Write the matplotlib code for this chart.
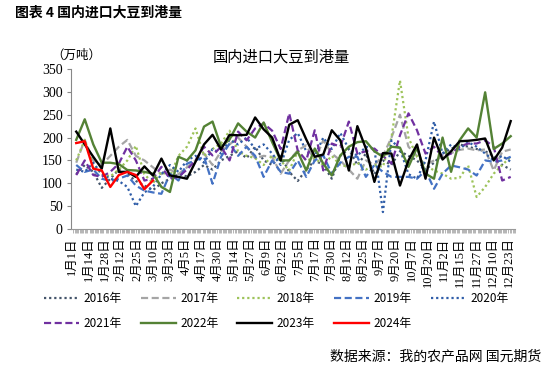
import numpy as np
import matplotlib
matplotlib.use('Agg')
import matplotlib.pyplot as plt

plt.rcParams['font.family'] = ['Noto Sans CJK SC', 'DejaVu Sans']

# x-axis labels (one every 13 categories)
tick_labels = ['1月1日', '1月14日', '1月28日', '2月12日', '2月25日', '3月10日', '3月23日',
               '4月5日', '4月17日', '4月30日', '5月14日', '5月27日', '6月9日', '6月22日',
               '7月5日', '7月17日', '7月30日', '8月12日', '8月25日', '9月7日', '9月20日',
               '10月7日', '10月20日', '11月2日', '11月15日', '11月27日', '12月10日', '12月23日']

# weekly arrivals, 万吨
y2016 = [120, 140, 125, 90, 110, 130, 120, 105, 95, 85, 100, 110, 120, 115, 125, 140, 130, 150,
         160, 170, 155, 180, 150, 140, 160, 125, 105, 130, 150, 140, 110, 160, 175, 140, 165, 120,
         150, 140, 170, 160, 150, 130, 145, 165, 175, 185, 180, 175, 170, 160, 140, 130]
y2017 = [145, 195, 150, 140, 160, 180, 195, 160, 150, 135, 120, 130, 120, 135, 150, 165, 140, 170,
         185, 200, 180, 155, 160, 158, 121, 150, 172, 183, 150, 194, 165, 150, 130, 110, 150, 140,
         160, 200, 250, 180, 160, 140, 150, 158, 166, 173, 176, 172, 174, 128, 169, 174]
y2018 = [150, 195, 140, 120, 115, 130, 150, 182, 120, 100, 125, 115, 160, 180, 220, 160, 175, 187,
         215, 170, 160, 155, 140, 160, 150, 128, 170, 150, 155, 140, 160, 140, 136, 145, 130, 140,
         136, 200, 325, 200, 158, 140, 128, 121, 110, 112, 139, 70, 92, 121, 140, 158]
y2019 = [140, 125, 130, 110, 105, 110, 117, 95, 84, 80, 77, 121, 106, 143, 150, 158, 99, 158,
         187, 160, 180, 160, 114, 150, 125, 121, 150, 114, 150, 161, 121, 145, 158, 158, 114, 140,
         125, 114, 114, 114, 110, 128, 88, 121, 139, 135, 130, 117, 150, 147, 150, 158]
y2020 = [130, 125, 145, 120, 110, 105, 92, 50, 80, 92, 120, 140, 125, 150, 160, 145, 175, 165,
         195, 185, 200, 175, 185, 165, 140, 195, 210, 170, 160, 200, 175, 210, 175, 160, 180, 175,
         37, 194, 175, 120, 110, 150, 235, 165, 185, 175, 190, 180, 165, 150, 160, 147]
y2021 = [118, 150, 118, 114, 125, 143, 180, 150, 106, 110, 136, 110, 114, 130, 150, 180, 161, 180,
         150, 213, 194, 220, 231, 215, 175, 253, 172, 150, 216, 128, 187, 180, 235, 165, 170, 176,
         160, 143, 205, 253, 216, 165, 180, 158, 165, 180, 187, 187, 194, 180, 106, 114]
y2022 = [195, 240, 185, 145, 145, 142, 129, 128, 125, 121, 92, 81, 158, 150, 172, 224, 235, 180,
         196, 231, 213, 200, 233, 190, 150, 150, 169, 128, 176, 143, 117, 161, 180, 190, 192, 170,
         158, 180, 178, 136, 178, 121, 110, 200, 125, 194, 220, 200, 299, 175, 187, 203]
y2023 = [213, 185, 158, 132, 220, 125, 125, 114, 137, 117, 154, 117, 114, 110, 147, 185, 206, 174,
         206, 205, 206, 244, 218, 200, 150, 228, 238, 196, 158, 163, 216, 194, 128, 225, 176, 103,
         166, 165, 95, 150, 185, 110, 200, 152, 170, 192, 193, 195, 198, 150, 178, 236]
y2024 = [188, 192, 132, 128, 92, 118, 125, 118, 87, 106]

series = [
    ('2016年', y2016, '#44546A', (0, (1, 1.3))),
    ('2017年', y2017, '#A5A5A5', (0, (3.2, 1.6))),
    ('2018年', y2018, '#9DC35A', (0, (1, 1.3))),
    ('2019年', y2019, '#4472C4', (0, (3.2, 1.6))),
    ('2020年', y2020, '#2F5DA8', (0, (1, 1.3))),
    ('2021年', y2021, '#7030A0', (0, (3.2, 1.6))),
    ('2022年', y2022, '#548235', '-'),
    ('2023年', y2023, '#000000', '-'),
    ('2024年', y2024, '#FF0000', '-'),
]

fig = plt.figure(figsize=(5.46, 3.69), dpi=100)
ax = fig.add_axes([71 / 546, 1 - 229 / 369, 444 / 546, 160 / 369])

handles = {}
for name, vals, color, ls in series:
    x = 3.2 + 6.85 * np.arange(len(vals))
    lw = 1.7 if ls == '-' else 1.6
    h, = ax.plot(x, vals, color=color, linestyle=ls, lw=lw, label=name)
    handles[name] = h

ax.set_xlim(-1, 356)
ax.set_ylim(0, 350)
ax.set_yticks(range(0, 351, 50))
ax.set_yticklabels([str(v) for v in range(0, 351, 50)], family='Liberation Serif', fontsize=10)
ax.tick_params(axis='y', length=3, color='#888888', pad=3)

ax.set_xticks(np.arange(len(tick_labels)) * 13)
ax.set_xticklabels(tick_labels, rotation=90, family=['Liberation Serif', 'Noto Sans CJK SC'],
                   fontsize=9)
ax.set_xticks(np.arange(0, 357, 1), minor=True)
ax.tick_params(axis='x', which='major', length=0, pad=6)
ax.tick_params(axis='x', which='minor', length=3, width=0.5, color='#999999')

for s in ['top', 'right']:
    ax.spines[s].set_visible(False)
ax.spines['left'].set_color('#888888')
ax.spines['bottom'].set_color('#999999')

fig.text(15 / 546, 1 - 13 / 369, '图表 4 国内进口大豆到港量', fontsize=10, fontweight='bold',
         va='center', ha='left')
fig.text(281 / 546, 1 - 57 / 369, '国内进口大豆到港量', fontsize=11, va='center', ha='center')
fig.text(76 / 546, 1 - 55 / 369, '（万吨）', fontsize=9, va='center', ha='center')
fig.text(541 / 546, 1 - 356 / 369, '数据来源：我的农产品网 国元期货', fontsize=10,
         va='center', ha='right')

order = ['2016年', '2021年', '2017年', '2022年', '2018年', '2023年', '2019年', '2024年', '2020年']
fig.legend([handles[k] for k in order], order, loc='upper left',
           bbox_to_anchor=(44 / 546, 1 - 292 / 369), ncol=5, frameon=False,
           fontsize=8.5, handlelength=2.95, handletextpad=0.4, columnspacing=1.6,
           labelspacing=1.0, borderaxespad=0, borderpad=0)

fig.savefig('out.png', dpi=100)
